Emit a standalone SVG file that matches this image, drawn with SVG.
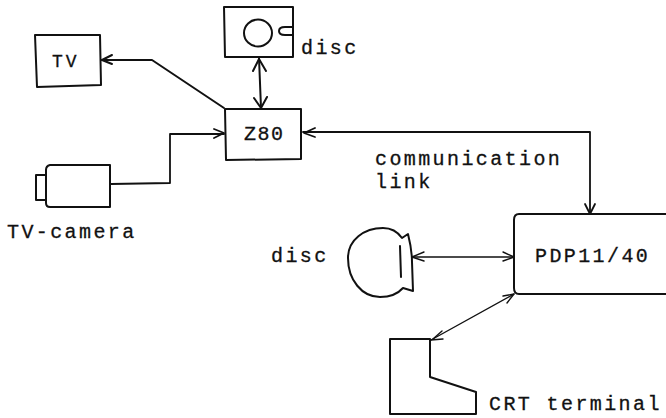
<svg xmlns="http://www.w3.org/2000/svg" width="666" height="418" viewBox="0 0 666 418">
<style>
.s{fill:none;stroke:#111;stroke-width:2;stroke-linejoin:round;stroke-linecap:round}
.c{fill:none;stroke:#111;stroke-width:1.8;stroke-linejoin:round;stroke-linecap:round}
.t{fill:none;stroke:#111;stroke-width:1.4;stroke-linejoin:round;stroke-linecap:round}
text{font-family:"Liberation Mono","DejaVu Sans Mono",monospace;font-size:20px;letter-spacing:2.400px;fill:#111;stroke:#111;stroke-width:.3}
</style>
<rect width="666" height="418" fill="#fff"/>
<g id="connectors">
<path class="s" d="M224 108L152 60H102"/><path class="s" d="M112 55L102 60L112 64"/>
<path class="s" d="M259 58L261 108"/><path class="s" d="M253 71L259 59L266 71M254 98L261 108L267 97"/>
<path class="c" d="M111 184L170 183V134H224"/><path class="c" d="M214 129L224 133L214 138"/>
<path class="c" d="M303 132H590V214"/><path class="c" d="M315 128L304 133L315 137"/><path class="c" d="M585 204L590 214L595 204"/>
<path class="t" d="M412 257H514"/><path class="t" d="M424 252L412 257L424 261M503 252L514 257L503 261"/>
<path class="t" d="M514 294L431 340"/><path class="t" d="M503 296L514 294L507 303M433 339L442 331M431 340L443 339"/>
</g>
<g id="tv"><path class="s" d="M35 35H100L101 85L37 87Z"/><text x="52" y="67" style="font-size:18px;letter-spacing:3px">TV</text></g>
<g id="disc1"><path class="s" d="M224 7H293V57H225Z"/><ellipse class="s" cx="258" cy="33" rx="14" ry="13.500"/><path class="s" d="M293 27H285Q279 27 279 31Q279 35 285 35H293"/><text x="301" y="54">disc</text></g>
<g id="z80"><path class="s" d="M225 109H301V159L226 160Z"/><text x="244" y="140" style="letter-spacing:1.500px">Z80</text></g>
<g id="camera"><path class="s" d="M50 165H110V207H50Q46 207 46 203V170Q46 166 50 165Z"/><path class="s" d="M46 175H36V200H46"/><text x="7" y="238">TV-camera</text></g>
<g id="link-label"><text x="375" y="165">communication</text><text x="375" y="188">link</text></g>
<g id="pdp"><path class="s" d="M666 214H519Q514 214 514 220V288Q514 294 519 294H666"/><text x="535" y="262">PDP11/40</text></g>
<g id="disc2"><path class="s" d="M408 234Q412 250 412 262L413 291L403 288Q395 297 380 297C362 297 348 280 348 258C348 240 364 228 383 228Q395 228 402 238Z"/><path class="s" d="M400 246L401 277"/><text x="271" y="262">disc</text></g>
<g id="crt"><path class="s" d="M390 339H430V377L476 392V414H390Z"/><text x="489" y="410">CRT terminal</text></g>
</svg>
